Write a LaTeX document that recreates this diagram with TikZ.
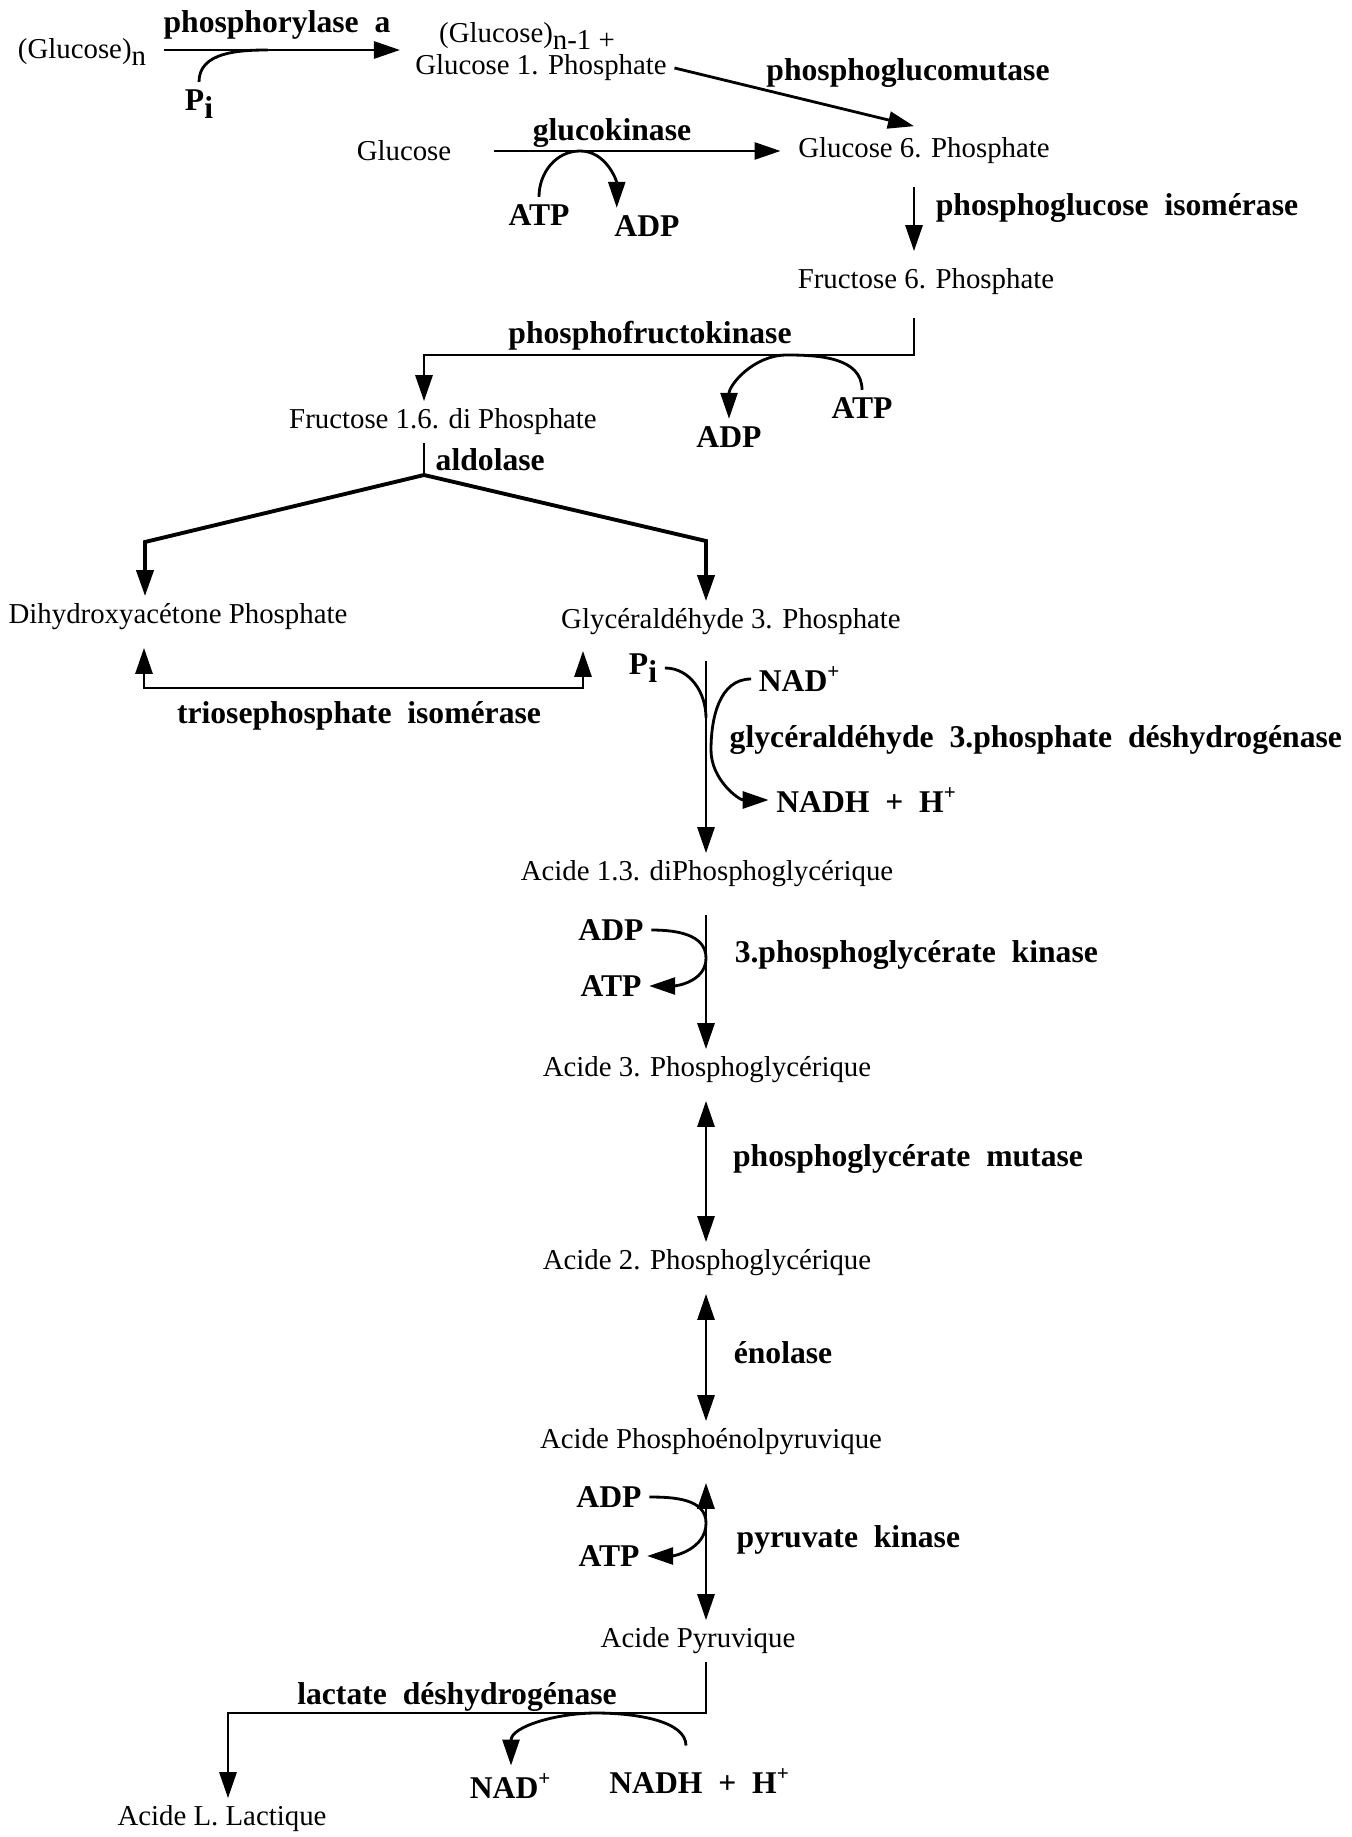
\documentclass[tikz,border=0pt]{standalone}
\usepackage{fontspec}
\setmainfont{Liberation Serif}
\usetikzlibrary{arrows.meta,calc,positioning}
\newcommand{\lowtxt}[1]{\raisebox{-0.55ex}{#1}}
\tikzset{
    >={Triangle[length=2.6mm,width=1.7mm]},
    semithick,
    compound/.style={inner sep=2pt, font=\fontsize{8.2}{10}\selectfont},
    enzyme/.style={inner sep=2pt, font=\fontsize{9}{11}\selectfont\bfseries},
    cofactor/.style={inner sep=2pt, font=\fontsize{9}{11}\selectfont\bfseries}
}

\begin{document}
\begin{tikzpicture}[x=0.01cm,y=-0.01cm,
paths/.style={->, line width=0.8pt},
both/.style={<->, line width=0.8pt},
branch/.style={line width=1.1pt}]
\useasboundingbox (0,0) rectangle (1351,1837);
% compounds
\node [compound] (GN) at (82,52) {(Glucose)\lowtxt{n}};
\node [compound] (GN1) at (527,36) {(Glucose)\lowtxt{n-1 +}};
\node [compound] (G1P) at (541,68) {Glucose 1. Phosphate};
\node [compound] (GLC) at (404,151) {Glucose};
\node [compound] (G6P) at (924,151) {Glucose 6. Phosphate};
\node [compound] (F6P) at (926,282) {Fructose 6. Phosphate};
\node [compound] (FBP) at (443,422) {Fructose 1.6. di Phosphate};
\node [compound] (DHAP) at (178,617) {Dihydroxyacétone Phosphate};
\node [compound] (GAP) at (731,622) {Glycéraldéhyde 3. Phosphate};
\node [compound] (BPG) at (707,874) {Acide 1.3. diPhosphoglycérique};
\node [compound] (PG3) at (707,1070) {Acide 3. Phosphoglycérique};
\node [compound] (PG2) at (707,1263) {Acide 2. Phosphoglycérique};
\node [compound] (PEP) at (711,1442) {Acide Phosphoénolpyruvique};
\node [compound] (PYR) at (698,1641) {Acide Pyruvique};
\node [compound] (LAC) at (222,1819) {Acide L. Lactique};
% cofactors
\node [cofactor] (Pi1) at (199,104) {P\lowtxt{i}};
\node [cofactor] (ATP1) at (539,215) {ATP};
\node [cofactor] (ADP1) at (647,226) {ADP};
\node [cofactor] (ATP2) at (862,408) {ATP};
\node [cofactor] (ADP2) at (729,437) {ADP};
\node [cofactor] (Pi2) at (643,668) {P\lowtxt{i}};
\node [cofactor] (NAD1) at (800,679) {NAD\textsuperscript{+}};
\node [cofactor] (NADH1) at (867,800) {NADH\ \ +\ \ H\textsuperscript{+}};
\node [cofactor] (ADP3) at (611,930) {ADP};
\node [cofactor] (ATP3) at (611,986) {ATP};
\node [cofactor] (ADP4) at (609,1497) {ADP};
\node [cofactor] (ATP4) at (609,1556) {ATP};
\node [cofactor] (NAD2) at (511,1786) {NAD\textsuperscript{+}};
\node [cofactor] (NADH2) at (700,1781) {NADH\ \ +\ \ H\textsuperscript{+}};
% enzymes
\node [enzyme] (E1) at (277,25) {phosphorylase\ \ a};
\node [enzyme] (E2) at (908,73) {phosphoglucomutase};
\node [enzyme] (E3) at (612,133) {glucokinase};
\node [enzyme] (E4) at (1117,208) {phosphoglucose\ \ isomérase};
\node [enzyme] (E5) at (650,336) {phosphofructokinase};
\node [enzyme, anchor=west] (E6) at (428,460) {aldolase};
\node [enzyme] (E7) at (359,716) {triosephosphate\ \ isomérase};
\node [enzyme, anchor=west] (E8) at (722,740) {glycéraldéhyde\ \ 3.phosphate\ \ déshydrogénase};
\node [enzyme, anchor=west] (E9) at (727,955) {3.phosphoglycérate\ \ kinase};
\node [enzyme] (E10) at (908,1159) {phosphoglycérate\ \ mutase};
\node [enzyme] (E11) at (783,1353) {énolase};
\node [enzyme, anchor=west] (E12) at (729,1540) {pyruvate\ \ kinase};
\node [enzyme] (E13) at (457,1697) {lactate\ \ déshydrogénase};
% bends and junctions
\coordinate (c1) at (914,0);
\coordinate (c2) at (424,0);
\coordinate (c3) at (706,0);
\coordinate (c4) at (228,0);
\coordinate (phend) at (400,50);
\coordinate (pijoin) at (268,50);
\coordinate (gkjoin) at (580,151);
\coordinate (pfkjoin) at (787,355);
\coordinate (split) at (424,475);
\coordinate (bl) at (145,542);
\coordinate (br) at (706,541);
\coordinate (tl) at (144,688);
\coordinate (tr) at (583,688);
\coordinate (pijoin2) at (706,718);
\coordinate (nadmid) at (711,750);
\coordinate (k1) at (706,958);
\coordinate (k2) at (706,1523);
\coordinate (ldhjoin) at (596,1713);
% glycogen and glucose
\draw [paths,shorten <=0.1cm] (GN.east |- phend) -- (phend);
\draw [line width=0.8pt] (Pi1.north) to[out=90,in=180] (pijoin);
\draw [paths] (G1P.east) -- ([xshift=-0.1cm,yshift=0.04cm]G6P.north);
\draw [paths,shorten <=0.35cm,shorten >=0.1cm] (GLC.east) -- (G6P.west);
\draw [paths] (ATP1.north) to[out=90,in=180] (gkjoin) to[out=0,in=90] ([xshift=0.1cm]ADP1.north west);
\draw [paths,shorten <=0.15cm,shorten >=0.1cm] (G6P.south -| c1) -- (F6P.north -| c1);
\draw [paths,shorten <=0.15cm] (F6P.south -| c1) |- (pfkjoin) -| (FBP.north -| c2);
\draw [paths] (ATP2.north) to[out=90,in=0] (pfkjoin) to[out=180,in=90] (ADP2.north);
% aldolase and triose
\draw [line width=0.8pt] (FBP.south -| c2) -- (split);
\draw [paths,branch] (split) -- (bl) -- (DHAP.north -| bl);
\draw [paths,branch] (split) -- (br) -- (GAP.north -| br);
\draw [both,shorten <=0.1cm,shorten >=0.08cm] (DHAP.south -| tl) -- (tl) -- (tr) -- (GAP.south -| tr);
% lower chain
\draw [paths,shorten <=0.18cm] (GAP.south -| c3) -- (BPG.north -| c3);
\draw [line width=0.8pt] (Pi2.east) to[out=0,in=90] (pijoin2);
\draw [paths] (NAD1.west) to[out=180,in=90] (nadmid) to[out=-90,in=180] (NADH1.west);
\draw [paths,shorten <=0.2cm] (BPG.south -| c3) -- (PG3.north -| c3);
\foreach \a/\b/\s in {PG3/PG2/0.1, PG2/PEP/0.1, PEP/PYR/0.2}
  \draw [both,shorten <=\s cm] (\a.south -| c3) -- (\b.north -| c3);
\foreach \ad/\at/\j in {ADP3/ATP3/k1, ADP4/ATP4/k2}
  \draw [paths] (\ad.east) to[out=0,in=90] (\j) to[out=-90,in=0] (\at.east);
\draw [paths] (PYR.south -| c3) |- (ldhjoin) -| (LAC.north -| c4);
\draw [paths,shorten <=0.15cm] ([xshift=-0.14cm]NADH2.north) to[out=90,in=0] (ldhjoin) to[out=180,in=90] (NAD2.north);
\end{tikzpicture}
\end{document}
